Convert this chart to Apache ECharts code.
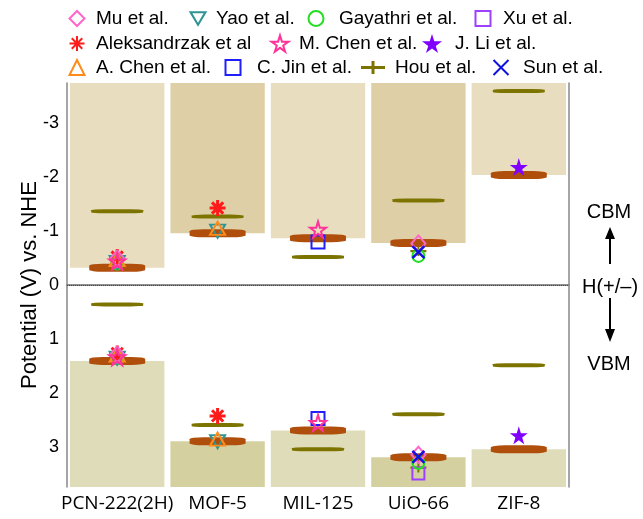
<!DOCTYPE html>
<html>
<head>
<meta charset="utf-8">
<script src="https://cdn.jsdelivr.net/npm/echarts@6/dist/echarts.min.js"></script>
<style>
html,body{margin:0;padding:0;background:#fff;}
#chart{width:643px;height:519px;}
</style>
</head>
<body>
<div id="chart"></div>
<script>
// ---------- data ----------
const categories = ['PCN-222(2H)', 'MOF-5', 'MIL-125', 'UiO-66', 'ZIF-8'];
const yTickLabels = [-3, -2, -1, 0, 1, 2, 3];
const yMin = -3.75, yMax = 3.75;

// calculated band edges (thick brown lines / shaded bars)
const calcCB = [-0.32, -0.96, -0.87, -0.78, -2.04];
const calcVB = [1.41, 2.90, 2.70, 3.20, 3.05];

// literature values (null = not reported)
const houCB   = [-1.37, -1.27, -0.52, -1.57, -3.60];
const houVB   = [0.36, 2.60, 3.05, 2.40, 1.49];
const houMarkCB = [null, null, null, -0.63, null];
const houMarkVB = [null, null, null, 3.39, null];
const muCB    = [-0.49, null, null, -0.77, null];
const muVB    = [1.29, null, null, 3.15, null];
const yaoCB   = [-0.42, -1.00, null, null, null];
const yaoVB   = [1.36, 2.91, null, null, null];
const gayCB   = [-0.40, null, null, -0.54, null];
const gayVB   = [1.36, null, null, 3.30, null];
const xuCB    = [null, null, null, null, null];
const xuVB    = [null, null, null, 3.50, null];
const alekCB  = [-0.52, -1.43, null, null, null];
const alekVB  = [1.27, 2.43, null, null, null];
const mchenCB = [-0.44, null, -1.03, null, null];
const mchenVB = [1.34, null, 2.56, null, null];
const jliCB   = [null, null, null, null, -2.19];
const jliVB   = [null, null, null, null, 2.79];
const achenCB = [-0.47, -1.05, null, null, null];
const achenVB = [1.30, 2.86, null, null, null];
const cjinCB  = [null, null, -0.80, null, null];
const cjinVB  = [null, null, 2.48, null, null];
const sunCB   = [null, null, null, -0.61, null];
const sunVB   = [null, null, null, 3.19, null];

// ---------- styles ----------
const cbBarColors = ['#E9DDBF', '#DFCFA7', '#E9DDBF', '#DFCFA7', '#E9DDBF'];
const vbBarColors = ['#DFDDB9', '#D4D0A0', '#DFDDB9', '#D4D0A0', '#DFDDB9'];
const FONT = 'Liberation Sans, Arial, sans-serif';

const STAR = 'path://M50,0 L61,35 L98,35 L68,57 L79,91 L50,70 L21,91 L32,57 L2,35 L39,35 Z';
const TRI_DOWN = 'path://M0,0 L20,0 L10,17 Z';
const ASTER = 'path://M10,0 L10,20 M0,10 L20,10 M3,3 L17,17 M17,3 L3,17';
const XMARK = 'path://M0,0 L10,10 M10,0 L0,10';
const PLUS = 'path://M0,5 L24,5 L24,8 L0,8 Z M10.5,0 L13.5,0 L13.5,13 L10.5,13 Z';

function pts(cb, vb) {
  const out = [];
  cb.forEach((v, i) => { if (v !== null) out.push([i, v]); });
  vb.forEach((v, i) => { if (v !== null) out.push([i, v]); });
  return out;
}
function hollow(name, symbol, size, color, cb, vb, bw) {
  return {
    name, type: 'scatter', symbol, symbolSize: size, data: pts(cb, vb),
    itemStyle: { color: 'rgba(0,0,0,0)', borderColor: color, borderWidth: bw || 2, opacity: 1 },
    z: 5
  };
}

const series = [
  { name: 'cbGap', type: 'bar', stack: 'band', barCategoryGap: '6%', silent: true,
    data: calcCB, itemStyle: { color: 'rgba(0,0,0,0)' } },
  { name: 'cbBar', type: 'bar', stack: 'band', silent: true,
    data: calcCB.map((v, i) => ({ value: yMin - v, itemStyle: { color: cbBarColors[i] } })) },
  { name: 'vbGap', type: 'bar', stack: 'band', silent: true,
    data: calcVB, itemStyle: { color: 'rgba(0,0,0,0)' } },
  { name: 'vbBar', type: 'bar', stack: 'band', silent: true,
    data: calcVB.map((v, i) => ({ value: yMax - v, itemStyle: { color: vbBarColors[i] } })),
    markLine: {
      silent: true, symbol: ['none', 'none'], label: { show: false },
      lineStyle: { type: 'dotted', color: '#444', width: 1 },
      data: [{ yAxis: 0 }]
    } },
  { name: 'Hou et al.', type: 'scatter', symbol: 'roundRect', symbolSize: [52, 4],
    data: pts(houCB, houVB), itemStyle: { color: '#7D7400', opacity: 1 }, z: 3 },
  { name: 'Calculated', type: 'scatter', symbol: 'roundRect', symbolSize: [56, 8],
    data: pts(calcCB, calcVB), itemStyle: { color: '#B04F0C', opacity: 1 }, z: 3 },
  { name: 'Hou et al.', type: 'scatter', symbol: PLUS, symbolSize: [16, 10],
    data: pts(houMarkCB, houMarkVB), itemStyle: { color: '#7D7400', opacity: 1 }, z: 4 },
  hollow('Aleksandrzak et al', ASTER, 16, '#FF1A1A', alekCB, alekVB, 3),
  hollow('Xu et al.', 'rect', 12, '#A040FF', xuCB, xuVB),
  hollow('Gayathri et al.', 'circle', 12, '#22DD22', gayCB, gayVB),
  hollow('Yao et al.', TRI_DOWN, [15, 13], '#2E9494', yaoCB, yaoVB),
  hollow('A. Chen et al.', 'triangle', [15, 13], '#FF8C1A', achenCB, achenVB),
  hollow('Mu et al.', 'diamond', [14, 16], '#FF66CC', muCB, muVB),
  hollow('C. Jin et al.', 'rect', 13, '#1E1EFF', cjinCB, cjinVB),
  hollow('M. Chen et al.', STAR, 16, '#FF3399', mchenCB, mchenVB),
  { name: 'J. Li et al.', type: 'scatter', symbol: STAR, symbolSize: 18,
    data: pts(jliCB, jliVB), itemStyle: { color: '#7F00FF', opacity: 1 }, z: 5 },
  hollow('Sun et al.', XMARK, 12, '#1010E0', sunCB, sunVB, 2.5)
];

// legend items: [name, marker centre x, text start x, row centre y]
const legendItems = [
  ['Mu et al.', 76, 95, 19], ['Yao et al.', 197, 215, 19], ['Gayathri et al.', 315, 338, 19], ['Xu et al.', 482, 502, 19],
  ['Aleksandrzak et al', 76, 95, 44], ['M. Chen et al.', 279, 298, 44], ['J. Li et al.', 432, 455, 44],
  ['A. Chen et al.', 76, 95, 68], ['C. Jin et al.', 232, 256, 68], ['Hou et al.', 373, 395, 68], ['Sun et al.', 500, 522, 68]
];
const legendIconSize = { 'Hou et al.': [24, 13], 'J. Li et al.': [20, 20], 'M. Chen et al.': [17, 17] };
const legends = legendItems.map(([name, cx, tx, cy]) => {
  const [w, h] = legendIconSize[name] || [15, 15];
  const pad = Math.max(0, tx - (cx + w / 2 + 5));
  return {
    data: [name === 'Hou et al.' ? { name, icon: PLUS } : name],
    left: cx - w / 2, top: cy - Math.max(10, h / 2), padding: 0,
    itemWidth: w, itemHeight: h,
    textStyle: { fontFamily: FONT, fontSize: 19, color: '#000', padding: [0, 0, 0, pad] },
    selectedMode: false
  };
});

const yBase = { type: 'value', min: yMin, max: yMax, inverse: true, splitLine: { show: false } };

const option = {
  animation: false,
  backgroundColor: '#fff',
  grid: { left: 67, right: 74, top: 83, bottom: 32 },
  legend: legends,
  xAxis: [
    { type: 'category', data: categories, position: 'bottom',
      axisLine: { lineStyle: { color: '#888', width: 1.5 } }, axisTick: { show: false },
      axisLabel: { interval: 0, fontFamily: 'Open Sans, Noto Sans, sans-serif', fontSize: 19, color: '#000', margin: 7 } },
    { type: 'category', data: categories, position: 'top',
      axisLine: { lineStyle: { color: '#888', width: 1.5 } }, axisTick: { show: false }, axisLabel: { show: false } }
  ],
  yAxis: [
    Object.assign({}, yBase, { position: 'left', interval: 0.25,
      name: 'Potential (V) vs. NHE', nameLocation: 'middle', nameGap: 26, nameMoveOverlap: false,
      nameTextStyle: { fontFamily: FONT, fontSize: 22, color: '#000' },
      axisLine: { show: true, lineStyle: { color: '#888', width: 1.5 } },
      axisTick: { inside: true, length: 4, lineStyle: { color: '#888' } },
      axisLabel: { customValues: yTickLabels, fontFamily: FONT, fontSize: 18, color: '#000', margin: 8 } }),
    Object.assign({}, yBase, { position: 'left',
      axisLine: { show: false },
      axisTick: { inside: true, length: 7, customValues: yTickLabels, lineStyle: { color: '#888' } },
      axisLabel: { show: false } }),
    Object.assign({}, yBase, { position: 'right', interval: 0.25,
      axisLine: { show: true, lineStyle: { color: '#888', width: 1.5 } },
      axisTick: { inside: true, length: 4, lineStyle: { color: '#888' } },
      axisLabel: { show: false } }),
    Object.assign({}, yBase, { position: 'right',
      axisLine: { show: false },
      axisTick: { inside: true, length: 7, customValues: yTickLabels, lineStyle: { color: '#888' } },
      axisLabel: { show: false } })
  ],
  graphic: [
    { type: 'text', style: { x: 609, y: 212, text: 'CBM', font: '20px ' + FONT, fill: '#000', textAlign: 'center', textVerticalAlign: 'middle' } },
    { type: 'line', shape: { x1: 610, y1: 264, x2: 610, y2: 236 }, style: { stroke: '#000', lineWidth: 2 } },
    { type: 'polygon', shape: { points: [[605, 239], [615, 239], [610, 227]] }, style: { fill: '#000' } },
    { type: 'text', style: { x: 610, y: 287, text: 'H(+/\u2013)', font: '20px ' + FONT, fill: '#000', textAlign: 'center', textVerticalAlign: 'middle' } },
    { type: 'line', shape: { x1: 610, y1: 298, x2: 610, y2: 331 }, style: { stroke: '#000', lineWidth: 2 } },
    { type: 'polygon', shape: { points: [[605, 329], [615, 329], [610, 342]] }, style: { fill: '#000' } },
    { type: 'text', style: { x: 609, y: 364, text: 'VBM', font: '20px ' + FONT, fill: '#000', textAlign: 'center', textVerticalAlign: 'middle' } }
  ],
  series
};

const chart = echarts.init(document.getElementById('chart'), null, { renderer: 'canvas' });
chart.setOption(option);
</script>
</body>
</html>
